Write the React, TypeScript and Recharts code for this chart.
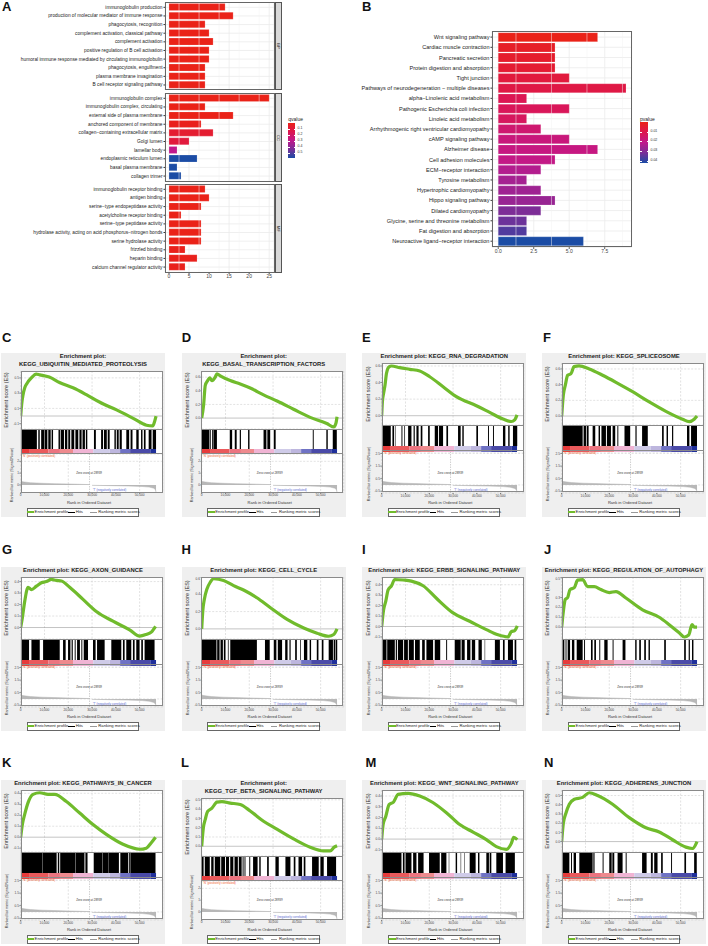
import React from "react"
import {
  Area,
  AreaChart,
  Bar,
  BarChart,
  CartesianGrid,
  Cell,
  Line,
  LineChart,
  ReferenceLine,
  XAxis,
  YAxis,
} from "recharts"

const FONT = '"Liberation Sans", Arial, sans-serif'

// ---- panel A
const bpTerms = [
  "immunoglobulin production",
  "production of molecular mediator of immune response",
  "phagocytosis, recognition",
  "complement activation, classical pathway",
  "complement activation",
  "positive regulation of B cell activation",
  "humoral immune response mediated by circulating immunoglobulin",
  "phagocytosis, engulfment",
  "plasma membrane invagination",
  "B cell receptor signaling pathway",
]
const bpCounts = [14, 16, 9, 10, 11, 10, 10, 9, 9, 9]
const bpQ = [0.01, 0.01, 0.01, 0.01, 0.01, 0.01, 0.01, 0.01, 0.01, 0.01]

const ccTerms = [
  "immunoglobulin complex",
  "immunoglobulin complex, circulating",
  "external side of plasma membrane",
  "anchored component of membrane",
  "collagen\u2212containing extracellular matrix",
  "Golgi lumen",
  "lamellar body",
  "endoplasmic reticulum lumen",
  "basal plasma membrane",
  "collagen trimer",
]
const ccCounts = [25, 9, 16, 8, 11, 5, 2, 7, 2, 3]
const ccQ = [0.01, 0.01, 0.01, 0.02, 0.07, 0.1, 0.28, 0.55, 0.55, 0.55]

const mfTerms = [
  "immunoglobulin receptor binding",
  "antigen binding",
  "serine\u2212type endopeptidase activity",
  "acetylcholine receptor binding",
  "serine\u2212type peptidase activity",
  "hydrolase activity, acting on acid phosphorus\u2212nitrogen bonds",
  "serine hydrolase activity",
  "frizzled binding",
  "heparin binding",
  "calcium channel regulator activity",
]
const mfCounts = [9, 10, 8, 3, 8, 8, 8, 4, 7, 4]
const mfQ = [0.01, 0.01, 0.01, 0.01, 0.01, 0.01, 0.01, 0.02, 0.02, 0.02]

const qTicks = ["0.1", "0.2", "0.3", "0.4", "0.5"]
const countTicksA = [0, 5, 10, 15, 20, 25]
const minorTicksA = [2.5, 7.5, 12.5, 17.5, 22.5]

// ---- panel B
const keggTerms = [
  "Wnt signaling pathway",
  "Cardiac muscle contraction",
  "Pancreatic secretion",
  "Protein digestion and absorption",
  "Tight junction",
  "Pathways of neurodegeneration \u2212 multiple diseases",
  "alpha\u2212Linolenic acid metabolism",
  "Pathogenic Escherichia coli infection",
  "Linoleic acid metabolism",
  "Arrhythmogenic right ventricular cardiomyopathy",
  "cAMP signaling pathway",
  "Alzheimer disease",
  "Cell adhesion molecules",
  "ECM\u2212receptor interaction",
  "Tyrosine metabolism",
  "Hypertrophic cardiomyopathy",
  "Hippo signaling pathway",
  "Dilated cardiomyopathy",
  "Glycine, serine and threonine metabolism",
  "Fat digestion and absorption",
  "Neuroactive ligand\u2212receptor interaction",
]
const keggCounts = [7, 4, 4, 4, 5, 9, 2, 5, 2, 3, 5, 7, 4, 3, 2, 3, 4, 3, 2, 2, 6]
const keggP = [
  0.001, 0.004, 0.005, 0.006, 0.008, 0.0095, 0.012, 0.013, 0.014, 0.017, 0.019, 0.02, 0.021,
  0.024, 0.026, 0.027, 0.028, 0.032, 0.034, 0.037, 0.043,
]
const pTicks = ["0.01", "0.02", "0.03", "0.04"]
const countTicksB = [0, 2.5, 5, 7.5]
const minorTicksB = [1.25, 3.75, 6.25, 8.75]

const rampStops = ["#ea2218", "#dd1650", "#c0198c", "#7a2e98", "#1b4ca5"]

// ---- GSEA panels: [rank, running enrichment score]
type Pt = [number, number]
const esC: Pt[] = [[0,0],[400,.15],[1000,.28],[1700,.37],[2700,.43],[4500,.5],[6500,.55],[8000,.54],[12000,.51],[16300,.44],[22000,.37],[27600,.28],[33300,.18],[40300,.08],[47300,-.03],[52900,-.12],[55500,-.13],[56400,-.06],[56900,0]]
const esD: Pt[] = [[0,0],[800,.19],[1500,.48],[2500,.55],[3400,.59],[4300,.55],[5700,.6],[6400,.65],[7800,.62],[12000,.55],[16200,.5],[20400,.44],[26000,.34],[31700,.25],[38600,.13],[45600,.01],[52600,-.08],[55500,-.13],[56400,-.08],[56900,.02]]
const esE: Pt[] = [[0,0],[300,.17],[800,.27],[1400,.37],[2000,.51],[3100,.59],[4100,.6],[7600,.58],[11800,.56],[16000,.54],[20200,.47],[25800,.35],[31400,.23],[39800,.12],[45400,.04],[51000,-.04],[54500,-.07],[55900,-.05],[56900,.01]]
const esF: Pt[] = [[0,0],[700,.27],[1500,.39],[2500,.52],[3900,.54],[5200,.63],[7300,.64],[11600,.6],[17200,.52],[22800,.43],[29800,.31],[36800,.18],[43800,.06],[50800,-.04],[53600,-.07],[55700,-.04],[56900,0]]
const esG: Pt[] = [[0,0],[700,.085],[1700,.23],[3100,.35],[4500,.33],[6600,.36],[8700,.39],[10800,.4],[12900,.42],[15000,.41],[17100,.405],[20600,.35],[26200,.245],[31800,.14],[38800,.055],[45800,-.02],[50000,-.075],[52800,-.06],[54900,-.04],[56700,.01]]
const esH: Pt[] = [[0,0],[500,.22],[1100,.34],[2200,.46],[3600,.54],[5000,.58],[9200,.56],[13400,.5],[17600,.45],[23200,.36],[28900,.245],[35900,.11],[42900,.01],[48500,-.05],[53400,-.085],[55500,-.065],[56900,0]]
const esI: Pt[] = [[0,0],[800,.16],[1700,.24],[2700,.35],[4100,.39],[5500,.45],[9000,.445],[12500,.435],[17400,.39],[23000,.27],[30000,.13],[37000,.05],[44000,-.03],[48900,-.08],[53100,-.1],[54500,-.05],[55900,-.04],[57000,.005]]
const esJ: Pt[] = [[0,0],[700,.16],[1500,.28],[2500,.3],[3500,.38],[5300,.4],[6700,.475],[8800,.48],[10900,.41],[13700,.41],[16500,.38],[20000,.35],[22800,.36],[27000,.295],[34000,.175],[41000,.1],[45200,.025],[49500,-.06],[51500,-.1],[53400,-.08],[54800,.025],[55700,0],[56900,0]]
const esK: Pt[] = [[0,0],[700,.115],[1700,.21],[3100,.315],[5200,.39],[8000,.405],[11500,.39],[14300,.39],[19200,.325],[24800,.22],[30400,.115],[36000,.025],[43000,-.065],[50000,-.11],[52800,-.1],[54900,-.05],[56700,0]]
const esL: Pt[] = [[0,0],[700,.2],[1500,.29],[2500,.375],[4300,.41],[6400,.475],[8500,.48],[12000,.465],[16200,.45],[20400,.38],[26000,.27],[31600,.185],[38600,.08],[45600,-.01],[51200,-.05],[54000,-.05],[55700,-.01],[56900,.005]]
const esM: Pt[] = [[0,0],[600,.135],[1700,.21],[3100,.32],[5000,.345],[6900,.415],[11100,.425],[16000,.4],[21500,.34],[27200,.245],[32800,.135],[38400,.065],[44000,-.005],[48200,-.07],[52400,-.095],[54500,-.04],[55500,.015],[57000,-.005]]
const esN: Pt[] = [[0,0],[700,.2],[1800,.31],[3200,.405],[5300,.46],[8800,.48],[11600,.53],[15100,.5],[21400,.405],[28400,.26],[35400,.15],[41000,.105],[46600,.02],[52200,-.06],[55000,-.075],[56900,0]]

// gene hits as [from, to], in thousands of ranks
const hitsC: Pt[] = [[0,6.8],[7.4,8],[8.6,9.8],[10,11.2],[11.6,12.6],[13,13.6],[15.9,16.5],[16.8,18.2],[18.6,19.6],[20,20.8],[21.3,22.5],[23,24.2],[24.7,25.6],[26,27],[27.4,28],[30.8,31.6],[33.8,34.6],[35,36.2],[36.6,37.4],[39.4,40],[40.4,41.2],[41.6,42.5],[44.4,45.6],[46.2,47],[48.6,49.6],[50.6,51.2],[51.8,52.5],[53.8,55],[55.5,56.9]]
const hitsD: Pt[] = [[0,3.2],[3.4,3.8],[4.4,4.9],[5,6.4],[11.8,12.8],[13.9,14.7],[16,16.5],[19.5,20.1],[26,27.2],[27.6,28.8],[30.3,31.1],[46.7,47.1],[52.4,53],[55.1,56.8]]
const hitsE: Pt[] = [[0,3.8],[4.5,5.2],[5.8,6],[8.3,8.7],[9.5,9.8],[11.1,12.5],[13.4,13.9],[14.6,15.5],[16.4,17.1],[19.5,20.2],[22.3,23.7],[24.1,25.8],[27.2,27.9],[32.1,33.2],[33.9,34.5],[39.8,40.5],[44.7,45.1],[46.8,47.2],[51,52],[53.2,53.8],[55.2,57]]
const hitsF: Pt[] = [[0,8.8],[9.2,10.2],[10.5,11.3],[13,14.1],[15.5,16.1],[16.7,18.6],[19,20.7],[21.4,22.5],[23.4,23.8],[26.4,28.8],[31,31.5],[33.8,36.2],[42.2,42.9],[44.1,44.7],[46.4,46.9],[52.7,53.7],[54.4,56.9]]
const hitsG: Pt[] = [[0,3.5],[4.5,8],[9.4,16.4],[17.8,18.9],[19.9,20.9],[21.4,21.9],[22.7,23.1],[23.7,24.9],[25.5,25.9],[26.5,28.3],[30.4,31.5],[32.1,35.3],[38.1,42.3],[43,43.7],[44.4,46.5],[47.2,47.9],[48.6,50],[50.7,51.4],[52.1,56.3]]
const hitsH: Pt[] = [[0,6.2],[6.5,7.5],[7.9,8.9],[9.3,10],[11,11.3],[12,23.2],[26.6,28.6],[30.3,31.4],[32,33.8],[35.1,36.1],[36.9,37.4],[39.3,40],[41.4,41.7],[43,44.4],[45.4,46],[48.4,49.1],[50.5,51.2],[53.4,55.2],[55.5,56.2],[56.4,57]]
const hitsI: Pt[] = [[0,2],[2.3,5.5],[5.9,6.4],[6.8,9],[9.4,11],[11.4,13.5],[14,16],[17,18.1],[18.8,21.6],[22.3,24.6],[27.1,27.5],[30.7,33.2],[33.6,34.9],[35.9,37.3],[37.9,39.3],[40.7,42.1],[43.3,43.5],[47.6,49.7],[51,51.7],[53.1,55.2],[55.9,56.6]]
const hitsJ: Pt[] = [[0,1.1],[1.6,2],[2.5,3.5],[4.3,5.3],[6.3,8.8],[9.4,9.8],[12.3,13],[13.7,14.4],[15.8,16.2],[17.9,19.3],[21.4,21.8],[25.6,26.8],[30.9,31.5],[32.6,33.3],[34.7,35.4],[36.5,37.1],[43.1,43.8],[51.5,52.2],[53.4,53.9],[54.8,55.4]]
const hitsK: Pt[] = [[0,9.2],[9.3,15.1],[15.6,16.2],[16.6,23],[23.1,26.8],[27.2,28.1],[30.7,34.3],[34.4,37],[37.1,41.3],[41.9,45.2],[45.5,45.9],[46.1,56.7]]
const hitsL: Pt[] = [[0,.8],[1.3,3.4],[4,5],[5.5,7.8],[8.2,9.8],[10.2,11.5],[12,13.3],[13.8,15.2],[15.6,16.8],[17.2,17.6],[18,18.4],[20,20.4],[21.6,23.5],[24.2,24.8],[27.5,28.2],[31,32.4],[35.2,37.3],[38.7,39.4],[40.7,42.2],[42.9,43.6],[46.4,49.2],[49.9,51.3],[52.7,56.5]]
const hitsM: Pt[] = [[0,8.3],[8.9,9.6],[10,12.5],[13.2,14.6],[15.3,17.6],[19.9,24.4],[25,27.2],[28.2,28.4],[31.1,31.7],[33.2,33.4],[34.8,35],[37,39.5],[40.5,41.1],[44,45.1],[45.4,46.1],[48.2,51],[52.1,56]]
const hitsN: Pt[] = [[0,3.2],[3.9,4.3],[5,6],[7.4,13],[13.3,13.8],[17.2,17.6],[20,21],[21.3,22.1],[23.5,25.6],[26.9,27.3],[33.8,35.7],[37.5,38.3],[38.9,40.3],[41.8,42.5],[46,46.4],[51.6,52.3],[55.7,56.8]]

const esTicks4 = [-0.1, 0, 0.1, 0.2, 0.3, 0.4]
const esTicks5 = [...esTicks4, 0.5]
const esTicks6 = [...esTicks5, 0.6]
const rankTicksShort = [0, 1, 2]
const rankTicksLong = [-0.5, 0, 0.5, 1, 1.5, 2, 2.5]

const rankMetric: { rank: number; v: number | null }[] = [
  { rank: 0, v: 0.34 }, { rank: 300, v: 0.29 }, { rank: 1500, v: 0.25 }, { rank: 4000, v: 0.19 },
  { rank: 9000, v: 0.14 }, { rank: 14000, v: 0.11 }, { rank: 20000, v: 0.08 }, { rank: 28900, v: 0.03 },
  { rank: 29000, v: null }, { rank: 29900, v: null }, { rank: 30000, v: -0.03 }, { rank: 38000, v: -0.06 },
  { rank: 45000, v: -0.09 }, { rank: 51000, v: -0.13 }, { rank: 54000, v: -0.18 }, { rank: 56000, v: -0.28 },
  { rank: 56700, v: -0.42 }, { rank: 56900, v: -0.62 },
]
const bandEdges = [3500, 11700, 16500, 22000, 30500, 37400, 41800, 46000, 54500, 56900]
const bandColors = ["#e63b3b", "#ea5a5c", "#ec7480", "#ee8a8e", "#f0b4d4", "#cfcbe8", "#bdb6de", "#6f72c4", "#4a4aa8", "#1f2f9a"]
const rankXTicks = [0, 10000, 20000, 30000, 40000, 50000]
const RANK_MAX = 59700
const ZERO_CROSS = 28939

const gseaPanels = [
  { letter: "C", title: ["Enrichment plot:", "KEGG_UBIQUITIN_MEDIATED_PROTEOLYSIS"], es: esC, hits: hitsC, ticks: esTicks5, dom: [-0.17, 0.59], rank: rankTicksShort },
  { letter: "D", title: ["Enrichment plot:", "KEGG_BASAL_TRANSCRIPTION_FACTORS"], es: esD, hits: hitsD, ticks: esTicks6, dom: [-0.16, 0.69], rank: rankTicksShort },
  { letter: "E", title: ["Enrichment plot: KEGG_RNA_DEGRADATION"], es: esE, hits: hitsE, ticks: esTicks6, dom: [-0.112, 0.636], rank: rankTicksLong },
  { letter: "F", title: ["Enrichment plot: KEGG_SPLICEOSOME"], es: esF, hits: hitsF, ticks: esTicks6, dom: [-0.114, 0.676], rank: rankTicksLong },
  { letter: "G", title: ["Enrichment plot: KEGG_AXON_GUIDANCE"], es: esG, hits: hitsG, ticks: esTicks4, dom: [-0.1, 0.44], rank: rankTicksLong },
  { letter: "H", title: ["Enrichment plot: KEGG_CELL_CYCLE"], es: esH, hits: hitsH, ticks: esTicks6, dom: [-0.117, 0.6], rank: rankTicksLong },
  { letter: "I", title: ["Enrichment plot: KEGG_ERBB_SIGNALING_PATHWAY"], es: esI, hits: hitsI, ticks: esTicks4, dom: [-0.12, 0.474], rank: rankTicksLong },
  { letter: "J", title: ["Enrichment plot: KEGG_REGULATION_OF_AUTOPHAGY"], es: esJ, hits: hitsJ, ticks: esTicks5, dom: [-0.12, 0.507], rank: rankTicksLong },
  { letter: "K", title: ["Enrichment plot: KEGG_PATHWAYS_IN_CANCER"], es: esK, hits: hitsK, ticks: esTicks4, dom: [-0.135, 0.43], rank: rankTicksLong },
  { letter: "L", title: ["Enrichment plot:", "KEGG_TGF_BETA_SIGNALING_PATHWAY"], es: esL, hits: hitsL, ticks: esTicks5, dom: [-0.105, 0.52], rank: rankTicksShort },
  { letter: "M", title: ["Enrichment plot: KEGG_WNT_SIGNALING_PATHWAY"], es: esM, hits: hitsM, ticks: esTicks4, dom: [-0.12, 0.456], rank: rankTicksLong },
  { letter: "N", title: ["Enrichment plot: KEGG_ADHERENS_JUNCTION"], es: esN, hits: hitsN, ticks: esTicks5, dom: [-0.113, 0.56], rank: rankTicksLong },
]
const columnX = [1, 181.7, 362.3, 542]
const rowY = [353, 567, 780]
const letterXY: Record<string, [number, number]> = {
  A: [2, 0], B: [362, 0], C: [2, 331], D: [181.7, 331], E: [362, 331], F: [543, 331],
  G: [2, 543], H: [181.5, 543], I: [362, 543], J: [544, 543],
  K: [2, 756], L: [181, 756], M: [365.5, 756], N: [544, 756],
}

const hexRgb = (h: string) => [1, 3, 5].map((i) => parseInt(h.slice(i, i + 2), 16))
const ramp = (t: number) => {
  const p = Math.min(Math.max(t, 0), 1) * (rampStops.length - 1)
  const i = Math.min(Math.floor(p), rampStops.length - 2)
  const a = hexRgb(rampStops[i])
  const b = hexRgb(rampStops[i + 1])
  const c = a.map((v, k) => Math.round(v + (b[k] - v) * (p - i)))
  return `rgb(${c.join(",")})`
}

type TxtProps = {
  x: number
  y: number
  size: number
  children: React.ReactNode
  color?: string
  bold?: boolean
  anchor?: "start" | "middle" | "end"
  rotate?: boolean
}
const Txt = ({ x, y, size, children, color = "#222", bold, anchor = "start", rotate }: TxtProps) => {
  const tx = anchor === "start" ? "0" : anchor === "middle" ? "-50%" : "-100%"
  return (
    <div
      style={{
        position: "absolute",
        left: x,
        top: y,
        fontSize: size,
        lineHeight: 1,
        fontWeight: bold ? 700 : 400,
        color,
        whiteSpace: "nowrap",
        transform: rotate ? "translate(-50%,-50%) rotate(-90deg)" : `translate(${tx},-50%)`,
      }}
    >
      {children}
    </div>
  )
}

const Box = ({ x, y, w, h, style }: { x: number; y: number; w: number; h: number; style: React.CSSProperties }) => (
  <div style={{ position: "absolute", left: x, top: y, width: w, height: h, boxSizing: "border-box", ...style }} />
)

interface TermBarsProps {
  top: number
  height: number
  plotLeft: number
  plotRight: number
  terms: string[]
  counts: number[]
  shades: string[]
  domain: number[]
  ticks: number[]
  minor: number[]
  labelSize: number
  showAxis: boolean
  formatTick?: (v: number) => string
}

const TermBars = ({ top, height, plotLeft, plotRight, terms, counts, shades, domain, ticks, minor, labelSize, showAxis, formatTick }: TermBarsProps) => {
  const data = terms.map((term, i) => ({ term, count: counts[i] }))
  // plain <text> so that long GO terms stay on one line
  const termTick = (p: any) => (
    <text x={p.x} y={p.y} textAnchor="end" dominantBaseline="central" fontSize={labelSize} fill="#222" fontFamily={FONT}>
      {p.payload.value}
    </text>
  )
  return (
    <div style={{ position: "absolute", left: 0, top }}>
      <BarChart
        width={plotRight + 1}
        height={height + (showAxis ? 10 : 0)}
        data={data}
        layout="vertical"
        barCategoryGap="7%"
        margin={{ top: 0, right: 1, bottom: 0, left: 0 }}
      >
        <CartesianGrid stroke="#ebebeb" strokeWidth={0.8} />
        {minor.map((m) => (
          <ReferenceLine key={m} x={m} stroke="#f2f2f2" strokeWidth={0.5} />
        ))}
        <XAxis
          type="number"
          domain={domain}
          ticks={ticks}
          hide={!showAxis}
          height={10}
          allowDataOverflow
          tickFormatter={formatTick}
          tick={{ fontSize: 5, fill: "#444", fontFamily: FONT }}
          tickSize={1.5}
          tickMargin={1}
          axisLine={false}
          stroke="#333"
        />
        <YAxis
          type="category"
          dataKey="term"
          width={plotLeft}
          interval={0}
          padding={{ top: 1, bottom: 1 }}
          tick={termTick}
          tickSize={1.5}
          tickMargin={1}
          axisLine={false}
          stroke="#333"
        />
        <Bar dataKey="count" isAnimationActive={false} stroke="rgba(255,255,255,0.3)" strokeWidth={0.6}>
          {data.map((d, i) => (
            <Cell key={d.term} fill={shades[i]} />
          ))}
        </Bar>
      </BarChart>
    </div>
  )
}

const Facet = ({ top, height, label }: { top: number; height: number; label: string }) => (
  <>
    <Box x={165} y={top} w={109.5} h={height} style={{ border: "1.2px solid #666" }} />
    <Box x={274.5} y={top} w={7.5} h={height} style={{ background: "#d9d9d9", border: "1px solid #555" }} />
    <div
      style={{
        position: "absolute",
        left: 278.2,
        top: top + height / 2,
        fontSize: 4,
        lineHeight: 1,
        color: "#222",
        transform: "translate(-50%,-50%) rotate(90deg)",
      }}
    >
      {label}
    </div>
  </>
)

const ColorBar = ({ x, y, w, h, title, labels, first, step }: { x: number; y: number; w: number; h: number; title: string; labels: string[]; first: number; step: number }) => (
  <>
    <Txt x={x} y={y - 3.8} size={5}>{title}</Txt>
    <Box x={x} y={y} w={w} h={h} style={{ background: `linear-gradient(to bottom, ${rampStops.join(",")})` }} />
    {labels.map((l, i) => (
      <React.Fragment key={l}>
        <Box x={x} y={first + i * step - 0.2} w={1.5} h={0.4} style={{ background: "#fff" }} />
        <Box x={x + w - 1.5} y={first + i * step - 0.2} w={1.5} h={0.4} style={{ background: "#fff" }} />
        <Txt x={x + w + 2.5} y={first + i * step} size={3.5} color="#333">{l}</Txt>
      </React.Fragment>
    ))}
  </>
)

// one row of stacked lengths: odd slots are drawn, even slots are the gaps
const StackStrip = ({ top, height, spans, fills }: { top: number; height: number; spans: number[]; fills: string[] }) => {
  const row: Record<string, number> = {}
  spans.forEach((s, i) => {
    row[`s${i}`] = s
  })
  return (
    <div style={{ position: "absolute", left: 0, top }}>
      <BarChart
        width={164}
        height={height}
        data={[row]}
        layout="vertical"
        barCategoryGap={0}
        margin={{ top: 0, right: 2.3, bottom: 0, left: 19.7 }}
      >
        <XAxis type="number" domain={[0, RANK_MAX]} hide allowDataOverflow />
        <YAxis type="category" hide />
        {spans.map((_, i) => (
          <Bar key={i} dataKey={`s${i}`} stackId="a" fill={fills[i]} isAnimationActive={false} />
        ))}
      </BarChart>
    </div>
  )
}

const GseaPanel = ({ panel, ox, oy }: { panel: (typeof gseaPanels)[number]; ox: number; oy: number }) => {
  const twoLine = panel.title.length > 1
  const esTop = twoLine ? 18 : 10.3
  const esBot = twoLine ? 76 : 72.3
  const hitBot = twoLine ? 96 : 93
  const bandBot = twoLine ? 101 : 98.5
  const rankBot = 139.5
  const shortRank = panel.rank.length === 3

  const esData = panel.es.map(([rank, es]) => ({ rank, es }))
  const hitSpans: number[] = []
  const hitFills: string[] = []
  let prev = 0
  panel.hits.forEach(([a, b]) => {
    hitSpans.push((a - prev) * 1000, (b - a) * 1000)
    hitFills.push("none", "#000")
    prev = b
  })
  const bandSpans = bandEdges.map((e, i) => e - (i ? bandEdges[i - 1] : 0))

  return (
    <div style={{ position: "absolute", left: ox, top: oy, width: 164, height: 164, background: "#efefef" }}>
      <Box x={19.7} y={esTop} w={142} h={rankBot - esTop} style={{ background: "#fff" }} />
      {panel.title.map((t, i) => (
        <Txt key={t} x={82} y={(twoLine ? 3.7 : 4.4) + i * 8.6} size={5.85} bold anchor="middle" color="#222">
          {t}
        </Txt>
      ))}
      <Txt x={6.3} y={(esTop + esBot) / 2} size={5.5} rotate color="#333">Enrichment score (ES)</Txt>
      <Txt x={shortRank ? 11.7 : 7.3} y={(bandBot + rankBot) / 2 + 2} size={3.7} rotate color="#333">
        Ranked list metric (Signal2Noise)
      </Txt>

      <div style={{ position: "absolute", left: 0, top: esTop }}>
        <LineChart width={164} height={esBot - esTop} data={esData} margin={{ top: 0, right: 2.3, bottom: 0, left: 0 }}>
          <CartesianGrid stroke="#c4c4c4" strokeWidth={0.5} strokeDasharray="2 1.5" />
          <XAxis type="number" dataKey="rank" domain={[0, RANK_MAX]} ticks={rankXTicks} hide allowDataOverflow />
          <YAxis
            type="number"
            width={19.7}
            domain={panel.dom}
            ticks={panel.ticks}
            allowDataOverflow
            tickFormatter={(v: number) => v.toFixed(1)}
            tick={{ fontSize: 3.2, fill: "#444", fontFamily: FONT }}
            tickSize={1.2}
            tickMargin={0.5}
            axisLine={false}
            stroke="#666"
          />
          <ReferenceLine y={0} stroke="#888" strokeWidth={0.5} />
          <Line type="monotone" dataKey="es" stroke="#70bb2c" strokeWidth={3.2} dot={false} isAnimationActive={false} />
        </LineChart>
      </div>

      <StackStrip top={esBot} height={hitBot - esBot} spans={hitSpans} fills={hitFills} />
      <StackStrip top={hitBot} height={bandBot - hitBot} spans={bandSpans} fills={bandColors} />

      <div style={{ position: "absolute", left: 0, top: bandBot }}>
        <AreaChart width={164} height={rankBot - bandBot + 14} data={rankMetric} margin={{ top: 0, right: 2.3, bottom: 0, left: 0 }}>
          <CartesianGrid stroke="#c4c4c4" strokeWidth={0.5} strokeDasharray="2 1.5" />
          <XAxis
            type="number"
            dataKey="rank"
            domain={[0, RANK_MAX]}
            ticks={rankXTicks}
            height={14}
            allowDataOverflow
            tickFormatter={(v: number) => v.toLocaleString("en-US")}
            tick={{ fontSize: 3.2, fill: "#444", fontFamily: FONT }}
            tickSize={1.2}
            tickMargin={0.4}
            axisLine={false}
            stroke="#666"
          />
          <YAxis
            type="number"
            width={19.7}
            domain={[-0.64, 2.62]}
            ticks={panel.rank}
            allowDataOverflow
            tickFormatter={(v: number) => (shortRank ? String(v) : v.toFixed(1))}
            tick={{ fontSize: 3.2, fill: "#444", fontFamily: FONT }}
            tickSize={1.2}
            tickMargin={0.5}
            axisLine={false}
            stroke="#666"
          />
          <ReferenceLine x={ZERO_CROSS} stroke="#888" strokeWidth={0.4} strokeDasharray="1.5 1" />
          <Area dataKey="v" stroke="#b4b4b4" strokeWidth={0.5} fill="#b8b8b8" fillOpacity={1} isAnimationActive={false} />
        </AreaChart>
      </div>

      <Box x={19.7} y={esTop} w={142} h={rankBot - esTop} style={{ border: "0.5px solid #8a8a8a" }} />
      <Box x={19.7} y={esBot} w={142} h={bandBot - esBot} style={{ borderTop: "0.5px solid #8a8a8a", borderBottom: "0.5px solid #8a8a8a" }} />

      <Txt x={21.5} y={bandBot + 1.9} size={3} color="#f0602f">
        'N' (positively correlated)
      </Txt>
      <Txt x={88} y={119.7} size={2.9} anchor="middle" color="#333">
        Zero cross at {ZERO_CROSS}
      </Txt>
      <Txt x={91.7} y={137} size={3} color="#5666cf">
        'T' (negatively correlated)
      </Txt>
      <Txt x={88} y={149.5} size={4} anchor="middle" color="#333">
        Rank in Ordered Dataset
      </Txt>

      <Box x={25.7} y={155} w={112.3} h={8.8} style={{ background: "#fff", border: "0.7px solid #666" }} />
      <Box x={26.2} y={158.3} w={7.2} h={2.2} style={{ background: "#70bb2c" }} />
      <Txt x={33.6} y={159.4} size={4.2} color="#222">Enrichment profile</Txt>
      <Box x={67.4} y={158.9} w={6.6} h={1.1} style={{ background: "#000" }} />
      <Txt x={74.7} y={159.4} size={4.2} color="#222">Hits</Txt>
      <Box x={89} y={159.2} w={6.6} h={0.5} style={{ background: "#999" }} />
      <Txt x={97.3} y={159.4} size={4.2} color="#222">Ranking metric scores</Txt>
    </div>
  )
}

const qShade = (q: number) => ramp((q - 0.01) / 0.54)
const pShade = (p: number) => ramp((p - 0.001) / 0.042)

export default function App() {
  return (
    <div style={{ position: "absolute", left: 0, top: 0, width: 708, height: 946, background: "#fff", overflow: "hidden", fontFamily: FONT }}>
      {Object.entries(letterXY).map(([l, [x, y]]) => (
        <div key={l} style={{ position: "absolute", left: x, top: y, fontSize: 13, lineHeight: "13px", fontWeight: 700, color: "#111" }}>
          {l}
        </div>
      ))}

      {/* A */}
      <TermBars top={1.7} height={88.3} plotLeft={165} plotRight={274} terms={bpTerms} counts={bpCounts} shades={bpQ.map(qShade)} domain={[-1, 26.2]} ticks={countTicksA} minor={minorTicksA} labelSize={4.8} showAxis={false} />
      <TermBars top={93.3} height={88.4} plotLeft={165} plotRight={274} terms={ccTerms} counts={ccCounts} shades={ccQ.map(qShade)} domain={[-1, 26.2]} ticks={countTicksA} minor={minorTicksA} labelSize={4.8} showAxis={false} />
      <TermBars top={184.3} height={88.4} plotLeft={165} plotRight={274} terms={mfTerms} counts={mfCounts} shades={mfQ.map(qShade)} domain={[-1, 26.2]} ticks={countTicksA} minor={minorTicksA} labelSize={4.8} showAxis />
      <Facet top={1.7} height={88.3} label="BP" />
      <Facet top={93.3} height={88.4} label="CC" />
      <Facet top={184.3} height={88.4} label="MF" />
      <ColorBar x={288.3} y={123} w={6.7} h={35} title="qvalue" labels={qTicks} first={129.3} step={6} />

      {/* B */}
      <TermBars top={30.7} height={216.3} plotLeft={492} plotRight={631.7} terms={keggTerms} counts={keggCounts} shades={keggP.map(pShade)} domain={[-0.44, 9.4]} ticks={countTicksB} minor={minorTicksB} labelSize={5.6} showAxis formatTick={(v) => v.toFixed(1)} />
      <Box x={492} y={30.7} w={139.7} h={216.3} style={{ border: "1.2px solid #666" }} />
      <ColorBar x={640} y={122.3} w={8} h={41} title="pvalue" labels={pTicks} first={131.7} step={9.67} />

      {gseaPanels.map((panel, i) => (
        <GseaPanel
          key={panel.letter}
          panel={panel}
          ox={columnX[i % 4]}
          oy={rowY[Math.floor(i / 4)]}
        />
      ))}
    </div>
  )
}
